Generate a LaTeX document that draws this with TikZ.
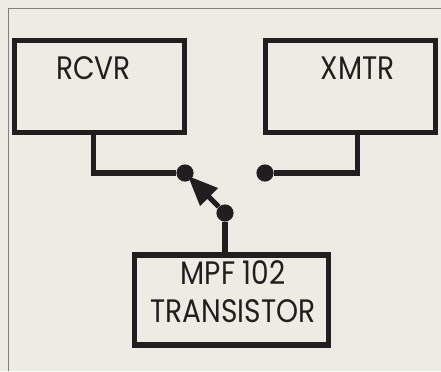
\documentclass[tikz,border=0pt]{standalone}
\usepackage{graphicx}
\usepackage{fontspec}
\setmainfont{Poppins}
\usetikzlibrary{arrows.meta}
\definecolor{paper}{RGB}{236,235,228}
\definecolor{ink}{RGB}{32,30,30}
\newcommand{\boxlabel}[1]{\scalebox{0.95}[1.1]{#1}}
\tikzset{>=stealth}
\tikzset{%
    unit/.style={%
        draw=ink,
        line width=3.6pt,
        inner sep=0pt
    },
    unittext/.style={%
        text=ink,
        font=\fontsize{21}{27}\selectfont,
        align=center,
        inner sep=0pt
    },
    contact/.style={%
        circle,
        fill=ink,
        inner sep=0pt,
        minimum size=0.43cm
    },
    wire/.style={%
        draw=ink,
        line width=3.6pt
    }
}
\begin{document}
\begin{tikzpicture}[x=0.025cm,y=-0.025cm]
    \useasboundingbox (0,0) rectangle (441,371);
    \fill[paper] (0,0) rectangle (441,371);
    \draw[gray,thin] (8,371)--(8,8)--(441,8);

    \node[unit,minimum width=4.25cm,minimum height=2.3cm] (rcvr) at (99.5,86.5) {};
    \node[unit,minimum width=4.25cm,minimum height=2.3cm] (xmtr) at (350.5,86.5) {};
    \node[unit,minimum width=4.87cm,minimum height=2.25cm] (mpf) at (231.5,300) {};
    \node[unittext] (rcvrlabel) at (93.5,68.5) {\boxlabel{RCVR}};
    \node[unittext] (xmtrlabel) at (357.5,68.5) {\boxlabel{XMTR}};
    \node[unittext] (mpflabel) at (233,292) {\boxlabel{MPF 102}\\\boxlabel{TRANSISTOR}};

    \node[contact] (rx) at (185,173) {};
    \node[contact] (tx) at (265,173) {};
    \node[contact] (pole) at (225,213) {};

    \draw[wire] (rcvrlabel |- rcvr.south) |- (rx);
    \draw[wire] (xmtrlabel |- xmtr.south) |- (tx);
    \draw[wire] (pole |- mpf.north) -- (pole);
    \draw[wire,shorten >=0.1cm,-{Triangle[length=0.75cm,width=0.6cm]}] (pole) -- (rx.center);
\end{tikzpicture}
\end{document}
